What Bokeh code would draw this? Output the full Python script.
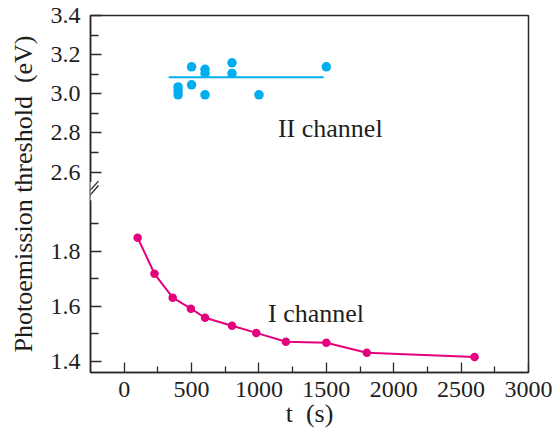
from bokeh.plotting import figure
from bokeh.models import Range1d, FixedTicker, CustomJSTickFormatter, Label, Arrow
from bokeh.embed import file_html
from bokeh.resources import INLINE

# ---------------- data ----------------
t_I = [100, 225, 360, 495, 600, 800, 980, 1200, 1500, 1800, 2600]
E_I = [1.849, 1.718, 1.631, 1.591, 1.558, 1.529, 1.503, 1.471, 1.467, 1.431, 1.415]

t_II = [400, 400, 400, 500, 500, 600, 600, 600, 800, 800, 1000, 1500]
E_II = [3.035, 3.015, 2.995, 3.138, 3.046, 3.125, 3.104, 2.995, 3.158, 3.104, 2.995, 3.138]

t_fit = [330, 1480]
E_fit = [3.084, 3.084]

x_major = [0, 500, 1000, 1500, 2000, 2500, 3000]
x_minor = [250, 750, 1250, 1750, 2250, 2750]
y_lower_major = [1.4, 1.6, 1.8]
y_lower_minor = [1.5, 1.7, 1.9]
y_upper_major = [2.6, 2.8, 3.0, 3.2, 3.4]
y_upper_minor = [2.7, 2.9, 3.1, 3.3]

# ---------------- ranges (broken axis) ----------------
LO0, LO1 = 1.359, 2.6572   # lower segment scale (whole frame)
UP0, UP1 = 1.5762, 3.4     # upper segment scale (whole frame)


def up_to_lo(v):
    y = LO0 + (v - UP0) * (LO1 - LO0) / (UP1 - UP0)
    return min(y, LO1)


FONT = "'Liberation Serif', 'Times New Roman', serif"
AX = "#2a2a2a"
TXT = "#1e1e1e"
MAGENTA = "#E5007E"
CYAN = "#00AEEF"
NB = "\u00a0"

p = figure(width=556, height=433, x_range=Range1d(-250, 3000), y_range=Range1d(LO0, LO1),
           output_backend="svg", toolbar_location=None,
           min_border_left=90, min_border_right=28, min_border_top=15, min_border_bottom=61)
p.extra_y_ranges = {"upper": Range1d(UP0, UP1)}
p.grid.visible = False
p.outline_line_color = AX
p.outline_line_width = 1.5

# x axis
xa = p.xaxis[0]
xa.ticker = FixedTicker(ticks=x_major, minor_ticks=x_minor)
xa.major_tick_in = 10
xa.major_tick_out = 0
xa.minor_tick_in = 6
xa.minor_tick_out = 0
xa.axis_line_color = AX
xa.axis_line_width = 1.5
xa.major_tick_line_color = AX
xa.minor_tick_line_color = AX
xa.major_tick_line_width = 1.3
xa.minor_tick_line_width = 1.3
xa.major_label_text_font = FONT
xa.major_label_text_font_size = "24px"
xa.major_label_text_color = TXT
xa.major_label_standoff = 9
xa.axis_label = "t" + NB + NB + "(s)"
xa.axis_label_text_font = FONT
xa.axis_label_text_font_size = "26px"
xa.axis_label_text_font_style = "normal"
xa.axis_label_text_color = TXT
xa.axis_label_standoff = -1

# y axis (lower positions + mapped upper positions)
y_pos = y_lower_major + [up_to_lo(v) for v in y_upper_major]
y_lab = ["%.1f" % v for v in y_lower_major] + ["%.1f" % v for v in y_upper_major]
y_min = y_lower_minor + [up_to_lo(v) for v in y_upper_minor]

ya = p.yaxis[0]
ya.ticker = FixedTicker(ticks=y_pos, minor_ticks=y_min)
ya.formatter = CustomJSTickFormatter(args=dict(pos=y_pos, labs=y_lab), code="""
    for (let i = 0; i < pos.length; i++) {
        if (Math.abs(pos[i] - tick) < 1e-6) { return labs[i]; }
    }
    return "";
""")
ya.major_tick_in = 11
ya.major_tick_out = 0
ya.minor_tick_in = 8
ya.minor_tick_out = 0
ya.axis_line_color = AX
ya.axis_line_width = 1.5
ya.major_tick_line_color = AX
ya.minor_tick_line_color = AX
ya.major_tick_line_width = 1.3
ya.minor_tick_line_width = 1.3
ya.major_label_text_font = FONT
ya.major_label_text_font_size = "24px"
ya.major_label_text_color = TXT
ya.major_label_standoff = 10
ya.axis_label = "Photoemission threshold" + NB + NB + "(eV)"
ya.axis_label_text_font = FONT
ya.axis_label_text_font_size = "26px"
ya.axis_label_text_font_style = "normal"
ya.axis_label_text_color = TXT
ya.axis_label_standoff = 10

# ---------------- series ----------------
p.line(t_I, E_I, line_color=MAGENTA, line_width=2)
p.scatter(t_I, E_I, size=8.5, fill_color=MAGENTA, line_color=None)

p.line(t_fit, E_fit, line_color=CYAN, line_width=2, y_range_name="upper")
p.scatter(t_II, E_II, size=9.5, fill_color=CYAN, line_color=None, y_range_name="upper")

# ---------------- annotations ----------------
p.add_layout(Label(x=1141, y=2.821, y_range_name="upper", text="II channel",
                   text_font=FONT, text_font_size="26px", text_color=TXT,
                   text_align="left", text_baseline="alphabetic"))
p.add_layout(Label(x=1067, y=1.572, text="I channel",
                   text_font=FONT, text_font_size="26px", text_color=TXT,
                   text_align="left", text_baseline="alphabetic"))

# axis break marks
p.add_layout(Arrow(end=None, x_start=-250, y_start=1.985, x_end=-250, y_end=2.052,
                   line_color="white", line_width=4))
p.add_layout(Arrow(end=None, x_start=-309, y_start=1.990, x_end=-191, y_end=2.055,
                   line_color=AX, line_width=1.3))
p.add_layout(Arrow(end=None, x_start=-309, y_start=1.973, x_end=-191, y_end=2.039,
                   line_color=AX, line_width=1.3))

open("out.html", "w").write(file_html(p, INLINE))
